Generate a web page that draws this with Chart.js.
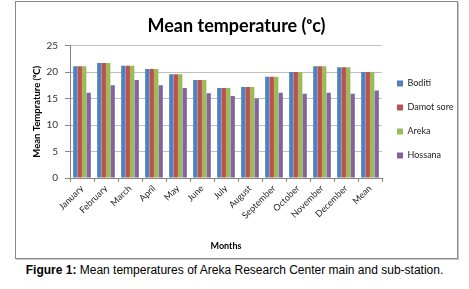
<!DOCTYPE html>
<html>
<head>
<meta charset="utf-8">
<script src="https://cdn.jsdelivr.net/npm/chart.js@4"></script>
<style>
  html, body { margin: 0; padding: 0; background: #fff; width: 469px; height: 289px; overflow: hidden; }
  #frame { position: absolute; left: 15px; top: 1px; width: 441px; height: 256px; border: 1px solid #8a8a8a; box-shadow: 1px 1px 0 #c8c8c8; background: #fff; }
  #caption { position: absolute; left: 0; top: 263px; width: 469px; text-align: center; font-family: "Liberation Sans", Arial, sans-serif; font-size: 12px; color: #000; }
  canvas { display: block; }
</style>
</head>
<body>
<div id="frame"><canvas id="c" width="441" height="256"></canvas></div>
<div id="caption"><b>Figure 1:</b> Mean temperatures of Areka Research Center main and sub-station.</div>
<script>
const categories = ["January","February","March","April","May","June","July","August","September","October","November","December","Mean"];
const boditi    = [21.1, 21.7, 21.2, 20.6, 19.6, 18.5, 17.0, 17.2, 19.1, 20.0, 21.1, 20.9, 20.0];
const damotSore = [21.1, 21.7, 21.2, 20.6, 19.6, 18.5, 17.0, 17.2, 19.1, 20.0, 21.1, 20.9, 20.0];
const areka     = [21.1, 21.7, 21.2, 20.6, 19.6, 18.5, 17.0, 17.2, 19.1, 20.0, 21.1, 20.9, 20.0];
const hossana   = [16.1, 17.5, 18.5, 17.5, 17.0, 16.0, 15.5, 15.0, 16.1, 15.9, 16.1, 15.9, 16.5];
const seriesNames = ["Boditi", "Damot sore", "Areka", "Hossana"];
const yTicks = [0, 5, 10, 15, 20, 25];

const colors = ["#4F81BD", "#C0504D", "#9BBB59", "#8064A2"];
const fam = "Lato, 'Open Sans', 'Liberation Sans', sans-serif";

const chart = new Chart(document.getElementById('c'), {
  type: 'bar',
  data: {
    labels: categories,
    datasets: [boditi, damotSore, areka, hossana].map((d, i) => ({
      label: seriesNames[i],
      data: d,
      backgroundColor: colors[i],
      borderWidth: 0,
      categoryPercentage: 0.74,
      barPercentage: 0.98
    }))
  },
  options: {
    responsive: false,
    animation: false,
    devicePixelRatio: 1,
    layout: { padding: { left: 0, right: 0, top: 0, bottom: 4 } },
    plugins: {
      title: {
        display: true,
        text: 'Mean temperature (ᵒc)',
        color: '#000',
        font: { family: fam, size: 18, weight: 'bold' },
        padding: { top: 13, bottom: 9 }
      },
      legend: {
        position: 'right',
        align: 'start',
        title: { display: true, text: '', font: { size: 9, lineHeight: 1 }, padding: { top: 0, bottom: 53 } },
        labels: {
          boxWidth: 6, boxHeight: 6,
          padding: 15,
          color: '#222',
          font: { family: fam, size: 9 }
        }
      },
      tooltip: { enabled: false }
    },
    scales: {
      x: {
        afterFit: s => { s.height = 76; },
        grid: { display: true, drawOnChartArea: false, tickLength: 4, color: '#868686' },
        border: { color: '#868686' },
        ticks: { autoSkip: false, minRotation: 45, maxRotation: 45, color: '#222', font: { family: fam, size: 9 }, padding: 1 },
        title: { display: true, text: 'Months', color: '#000', font: { family: fam, size: 9, weight: 'bold' }, padding: { top: 2, bottom: 3 } }
      },
      y: {
        min: 0, max: 25,
        afterFit: s => { s.width = 54; },
        afterBuildTicks: s => { s.ticks = yTicks.map(v => ({ value: v })); },
        grid: { color: '#c0c0c0', tickLength: 5, tickColor: '#868686' },
        border: { color: '#868686' },
        ticks: { color: '#333', font: { family: fam, size: 10 }, padding: 7 },
        title: { display: true, text: 'Mean Temprature (ᵒC)', color: '#000', font: { family: fam, size: 9.5, weight: 'bold' }, padding: { top: 15, bottom: 0 } }
      }
    }
  }
});
const origFit = chart.legend.fit.bind(chart.legend);
chart.legend.fit = function () { origFit(); this.width = 75; };
chart.update();
</script>
</body>
</html>
